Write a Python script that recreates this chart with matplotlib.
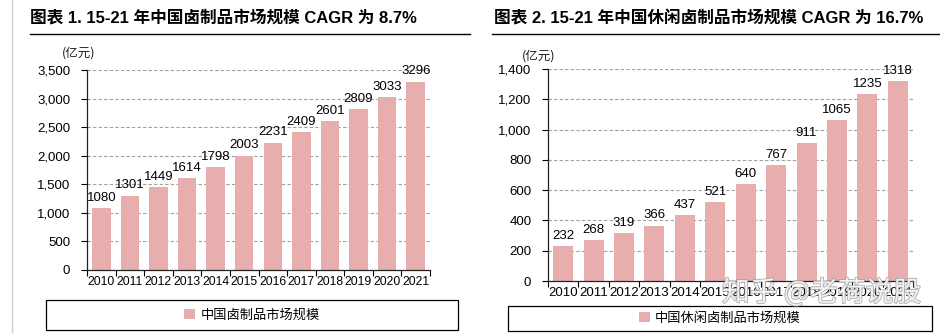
import matplotlib
matplotlib.use("Agg")
import matplotlib.pyplot as plt
from matplotlib.ticker import FuncFormatter, FixedLocator
from matplotlib.patches import Rectangle
from matplotlib.lines import Line2D
import matplotlib.patheffects as pe
import numpy as np

years = ["2010", "2011", "2012", "2013", "2014", "2015", "2016", "2017", "2018", "2019", "2020", "2021"]
left_values = [1080, 1301, 1449, 1614, 1798, 2003, 2231, 2409, 2601, 2809, 3033, 3296]
right_values = [232, 268, 319, 366, 437, 521, 640, 767, 911, 1065, 1235, 1318]
left_title = "图表 1. 15-21 年中国卤制品市场规模 CAGR 为 8.7%"
right_title = "图表 2. 15-21 年中国休闲卤制品市场规模 CAGR 为 16.7%"
left_legend = "中国卤制品市场规模"
right_legend = "中国休闲卤制品市场规模"
unit = "(亿元)"
watermark = "知乎 @老荷说股"
left_yticks = [0, 500, 1000, 1500, 2000, 2500, 3000, 3500]
right_yticks = [0, 200, 400, 600, 800, 1000, 1200, 1400]

BAR = "#E8AEAE"
NUMFONT = ["Liberation Sans Narrow", "Liberation Sans", "DejaVu Sans"]
CJK = ["Noto Sans CJK SC", "DejaVu Sans"]
TITLEFONT = ["Liberation Sans", "Noto Sans CJK SC", "DejaVu Sans"]

W, H = 940, 333
fig = plt.figure(figsize=(W / 100, H / 100), dpi=100)

def fx(px):
    return px / W

def fy(py):
    return 1 - py / H

def panel(rect, values, yticks, title, title_x, line_x0, line_x1, legend_label,
          unit_xy, legbox, bar_w, fs, xfs):
    ax = fig.add_axes(rect)
    x = np.arange(len(years))
    bars = ax.bar(x, values, width=bar_w, color=BAR, label=legend_label, zorder=2)
    ax.set_xlim(-0.5, len(years) - 0.5)
    ax.set_ylim(0, yticks[-1])
    ax.yaxis.set_major_locator(FixedLocator(yticks))
    ax.yaxis.set_major_formatter(FuncFormatter(lambda v, p: f"{int(v):,}"))
    ax.grid(axis="y", linestyle=(0, (3, 2)), color="#A0A0A0", linewidth=0.8, zorder=1)
    ax.set_xticks(x)
    ax.set_xticklabels(years)
    ax.set_xticks(np.arange(-0.5, len(years)), minor=True)
    ax.tick_params(axis="x", which="major", length=0, pad=4)
    ax.tick_params(axis="x", which="minor", length=4, width=0.8, direction="out")
    ax.tick_params(axis="y", length=4, width=0.8, direction="out", pad=8)
    for lab in ax.get_xticklabels():
        lab.set_family(NUMFONT)
        lab.set_fontsize(xfs)
    for lab in ax.get_yticklabels():
        lab.set_family(NUMFONT)
        lab.set_fontsize(fs)
    for s in ("top", "right"):
        ax.spines[s].set_visible(False)
    for s in ("left", "bottom"):
        ax.spines[s].set_linewidth(0.9)
        ax.spines[s].set_color("#222222")
    ax.bar_label(bars, labels=[str(v) for v in values], padding=3,
                 family=NUMFONT, fontsize=fs)
    fig.text(fx(title_x), fy(18), title, family=TITLEFONT, fontweight="bold",
             fontsize=12, va="center", ha="left")
    fig.add_artist(Line2D([fx(line_x0), fx(line_x1)], [fy(34), fy(34)],
                          color="black", linewidth=1.0))
    fig.text(fx(unit_xy[0]), fy(unit_xy[1]), unit, family=CJK, fontsize=9,
             va="center", ha="left", color="#222222")
    x0, y0, x1, y1 = legbox
    fig.add_artist(Rectangle((fx(x0), fy(y1)), fx(x1 - x0), fy(y0) - fy(y1),
                             fill=False, edgecolor="black", linewidth=0.9,
                             transform=fig.transFigure))
    fig.legend(handles=[bars], labels=[legend_label], loc="center",
               bbox_to_anchor=(fx((x0 + x1) / 2), fy((y0 + y1) / 2)),
               frameon=False, prop={"family": CJK, "size": 9.5},
               handlelength=0.8, handleheight=0.8, handletextpad=0.4)
    return ax

panel([fx(87), fy(270), fx(343), fy(70) - fy(270)], left_values, left_yticks,
      left_title, 30, 30, 470, left_legend, (62, 53), (46, 300, 458, 330), 0.65, 9.5, 8.8)
panel([fx(548), fy(281), fx(365), fy(69) - fy(281)], right_values, right_yticks,
      right_title, 494, 492, 940, right_legend, (522, 56), (508, 306, 932, 331), 0.66, 9.5, 9.5)

fig.add_artist(Line2D([fx(12), fx(12)], [0, 1], color="#D0D0D0", linewidth=1.0))

wm = fig.text(fx(722), fy(293), watermark, family=CJK, fontsize=20,
              color="white", alpha=0.8, va="center", ha="left", zorder=10)
wm.set_path_effects([pe.withStroke(linewidth=1.2, foreground="#9A9A9A")])

fig.savefig("out.png", dpi=100, facecolor="white")
